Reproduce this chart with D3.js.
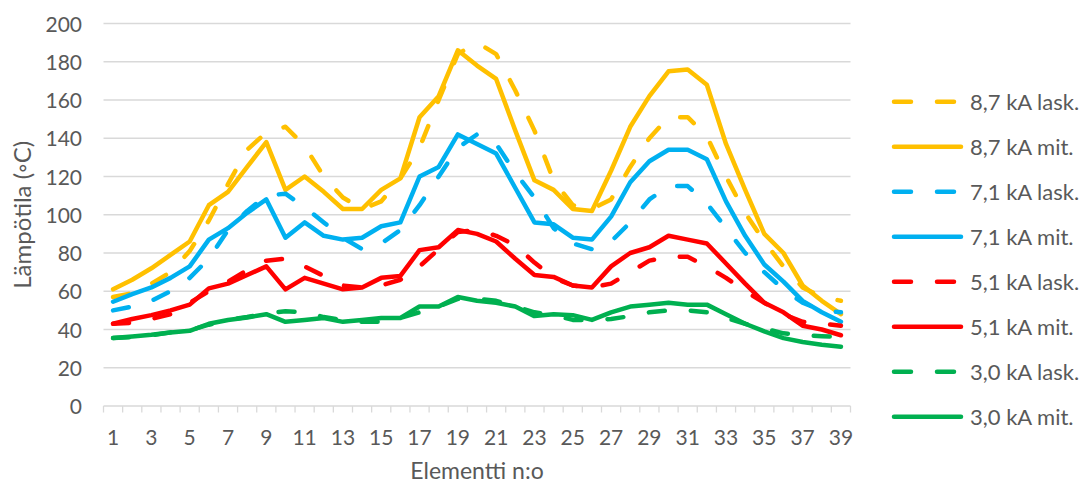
<!DOCTYPE html>
<html>
<head>
<meta charset="utf-8">
<script src="https://cdn.jsdelivr.net/npm/d3@7"></script>
<style>
  html, body { margin: 0; padding: 0; background: #fff; }
  svg { display: block; font-family: Lato, "Open Sans", sans-serif; }
</style>
</head>
<body>
<svg id="chart" width="1080" height="486"></svg>
<script>
// ---- data ----
const categories = [1,2,3,4,5,6,7,8,9,10,11,12,13,14,15,16,17,18,19,20,21,22,23,24,25,26,27,28,29,30,31,32,33,34,35,36,37,38,39];
const xTickLabels = [1,3,5,7,9,11,13,15,17,19,21,23,25,27,29,31,33,35,37,39];
const yTickValues = [0,20,40,60,80,100,120,140,160,180,200];

const lask87 = [57,59,64,70,81,97,116,134,143,146,136,120,109,103,107,119,135,160,184,190,184,165,144,118,105,103,108,125,140,151,151,141,120,101,86,73,62,57,55];
const mit87  = [61,66,72,79,86,105,112,125,138,113,120,112,103,103,113,119,151,162,186,178,171,144,118,113,103,102,123,146,162,175,176,168,137,113,90,80,63,55,48];
const lask71 = [50,52,55,60,67,77,92,102,110,111,104,96,88,82,85,92,105,120,135,142,137,122,109,93,85,82,86,96,108,115,115,106,93,80,70,61,54,50,49];
const mit71  = [54.5,58.5,62,67,73,87,93,101,108,88,96,89,87,88,94,96,120,125,142,137,132,114,96,95,88,87,99,117,128,134,134,129,107,89,74,65,55,49,44];
const lask51 = [43,43.5,45.5,48,54,60,65,71,76,77,73,68,63,62,63,66,73,82,91,92,89,84,75,67,63,62,64,70,76,78,78,73,67,60,54,48,44,43,42];
const mit51  = [43,45.5,47.5,50,53,61.5,64,68.5,73,61,67,64,61,62,67,68,81.5,83,92,90,86,77,68.5,67.5,63,62,73,80,83,89,87,85,74.5,64,54,49,42,40,37];
const lask30 = [35.5,36,37,38.5,39.5,42.5,45,46.5,48.5,49.5,49,46.5,45,44,44,46,49,52,56,56,55,52,49,47.5,45,45,45.5,47,49,50,50,49,46,43,40.5,38,37,36.5,36];
const mit30  = [35.5,36.3,37.2,38.4,39.3,43,45,46.3,48,44,45,46,44,45,46,46,52,52,57,55,54,52,47,48,47.5,45,49,52,53,54,53,53,48,43,39,35.5,33.5,32,31];

const seriesNames = ["8,7 kA lask.","8,7 kA mit.","7,1 kA lask.","7,1 kA mit.","5,1 kA lask.","5,1 kA mit.","3,0 kA lask.","3,0 kA mit."];
const seriesValues = [lask87, mit87, lask71, mit71, lask51, mit51, lask30, mit30];
const seriesColors = ["#FFC000","#FFC000","#00B0F0","#00B0F0","#FF0000","#FF0000","#00B050","#00B050"];
const seriesDashed = [true,false,true,false,true,false,true,false];

const yTitle = "Lämpötila (◦C)";
const xTitle = "Elementti n:o";

// ---- layout ----
const svg = d3.select("#chart");
const plot = { left: 103.5, right: 850.5, top: 23.5, bottom: 406 };
const gridColor = "#d9d9d9";
const textColor = "#595959";
const lineW = 4.5;
const dashArr = "16,26";

const x = d3.scaleBand().domain(categories).range([plot.left, plot.right]).padding(0);
const y = d3.scaleLinear().domain([0, 200]).range([plot.bottom, plot.top]);
const cx = d => x(d) + x.bandwidth() / 2;

// gridlines
svg.append("g").selectAll("line").data(yTickValues.filter(v => v > 0)).join("line")
  .attr("x1", plot.left).attr("x2", plot.right)
  .attr("y1", d => y(d)).attr("y2", d => y(d))
  .attr("stroke", gridColor).attr("stroke-width", 1.3);

// y axis labels
const yAxis = d3.axisLeft(y).tickValues(yTickValues).tickSize(0).tickPadding(0);
const gy = svg.append("g").attr("transform", "translate(82,0)").call(yAxis);
gy.select(".domain").remove();
gy.selectAll("text").attr("fill", textColor).style("font-size", "21px")
  .style("font-family", "Lato, sans-serif").attr("dy", "0.36em");

// x axis line + boundary ticks
svg.append("line").attr("x1", plot.left).attr("x2", plot.right)
  .attr("y1", plot.bottom).attr("y2", plot.bottom)
  .attr("stroke", gridColor).attr("stroke-width", 1.5);
const edges = categories.map(c => x(c)).concat([x(categories[categories.length - 1]) + x.bandwidth()]);
svg.append("g").selectAll("line").data(edges).join("line")
  .attr("x1", d => d).attr("x2", d => d)
  .attr("y1", plot.bottom).attr("y2", plot.bottom + 6.5)
  .attr("stroke", gridColor).attr("stroke-width", 1.3);

// x labels
svg.append("g").selectAll("text").data(xTickLabels).join("text")
  .attr("x", d => cx(d)).attr("y", 445)
  .attr("text-anchor", "middle").attr("fill", textColor)
  .style("font-size", "21px").text(d => d);

// axis titles
svg.append("text").attr("x", (plot.left + plot.right) / 2).attr("y", 479)
  .attr("text-anchor", "middle").attr("fill", textColor)
  .style("font-size", "23px").text(xTitle);
svg.append("text").attr("transform", `translate(31,${(plot.top + plot.bottom) / 2}) rotate(-90)`)
  .attr("text-anchor", "middle").attr("fill", textColor)
  .style("font-size", "24px").text(yTitle);

// lines
const line = d3.line().x((d, i) => cx(categories[i])).y(d => y(d));
seriesValues.forEach((vals, k) => {
  svg.append("path").datum(vals)
    .attr("d", line)
    .attr("fill", "none")
    .attr("stroke", seriesColors[k])
    .attr("stroke-width", lineW)
    .attr("stroke-linejoin", "round")
    .attr("stroke-linecap", "round")
    .attr("stroke-dasharray", seriesDashed[k] ? dashArr : null);
});

// legend
const lg = svg.append("g");
seriesNames.forEach((name, k) => {
  const ly = 101.7 + k * 45;
  lg.append("line").attr("x1", 894).attr("x2", 961).attr("y1", ly).attr("y2", ly)
    .attr("stroke", seriesColors[k]).attr("stroke-width", lineW)
    .attr("stroke-linecap", "round")
    .attr("stroke-dasharray", seriesDashed[k] ? "17,26" : null);
  lg.append("text").attr("x", 970).attr("y", ly + 8)
    .attr("fill", textColor).style("font-size", "22px").text(name);
});
</script>
</body>
</html>
